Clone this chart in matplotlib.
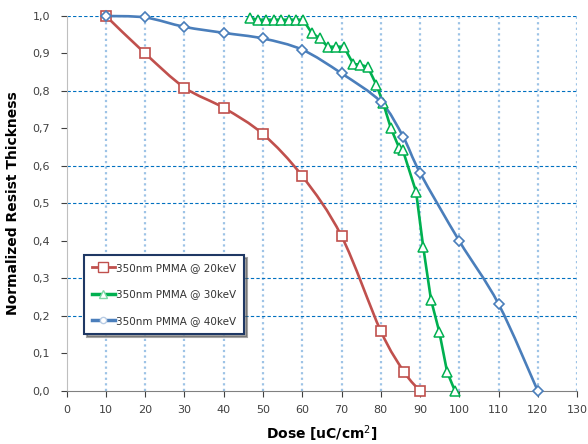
import matplotlib
matplotlib.use('Agg')
import matplotlib.pyplot as plt
from matplotlib.path import Path
from matplotlib.patches import PathPatch

# 20 keV data
dose_20 = [10, 20, 30, 40, 50, 60, 70, 80, 86, 90]
thick_20 = [1.0, 0.90, 0.809, 0.755, 0.685, 0.573, 0.413, 0.16, 0.05, 0.0]

# 30 keV data
dose_30 = [46.7, 48.7, 50.7, 52.8, 54.6, 56.6, 58.4, 60.2, 62.4, 64.5, 66.5,
           68.7, 70.6, 73.0, 74.8, 76.7, 78.9, 80.6, 82.6, 84.7, 85.6, 89.0,
           90.8, 92.8, 94.9, 96.9, 98.9]
thick_30 = [0.995, 0.99, 0.99, 0.99, 0.99, 0.99, 0.99, 0.99, 0.955, 0.94, 0.918,
            0.918, 0.918, 0.872, 0.87, 0.864, 0.816, 0.768, 0.70, 0.648, 0.643, 0.531,
            0.385, 0.243, 0.158, 0.051, 0.0]

# 40 keV data
dose_40 = [10, 20, 30, 40, 50, 60, 70, 80, 85.7, 90, 100, 110, 120]
thick_40 = [1.0, 0.996, 0.971, 0.955, 0.94, 0.91, 0.847, 0.771, 0.678, 0.582, 0.40, 0.232, 0.0]

x_ticks = list(range(0, 140, 10))
y_ticks = [i / 10 for i in range(11)]
y_grid = [0.2, 0.3, 0.5, 0.6, 0.8, 1.0]

labels = ['350nm PMMA @ 20keV', '350nm PMMA @ 30keV', '350nm PMMA @ 40keV']
red = '#C0504D'
green = '#00B050'
blue = '#4A7EBB'


def smooth_path(xs, ys):
    # excel-like smoothed line: bezier through the points
    pts = list(zip(xs, ys))
    verts = [pts[0]]
    codes = [Path.MOVETO]
    n = len(pts)
    for i in range(n - 1):
        p0 = pts[i - 1] if i > 0 else pts[i]
        p1 = pts[i]
        p2 = pts[i + 1]
        p3 = pts[i + 2] if i + 2 < n else pts[i + 1]
        c1 = (p1[0] + (p2[0] - p0[0]) / 6, p1[1] + (p2[1] - p0[1]) / 6)
        c2 = (p2[0] - (p3[0] - p1[0]) / 6, p2[1] - (p3[1] - p1[1]) / 6)
        verts += [c1, c2, p2]
        codes += [Path.CURVE4] * 3
    return Path(verts, codes)


fig = plt.figure(figsize=(5.88, 4.44), dpi=100)
ax = fig.add_axes([0.1134, 0.1194, 0.868, 0.8446])

for x in x_ticks[1:]:
    ax.axvline(x, color='#9DC3E6', lw=1.6, ls=(0, (1, 1.5)), zorder=0)
for y in y_grid:
    ax.axhline(y, color='#0070C0', lw=0.8, ls=(0, (3, 2)), zorder=0)

ax.add_patch(PathPatch(smooth_path(dose_20, thick_20), fill=False, ec=red, lw=1.9, zorder=2, clip_on=False))
ax.add_patch(PathPatch(smooth_path(dose_40, thick_40), fill=False, ec=blue, lw=1.9, zorder=2, clip_on=False))

ax.plot(dose_20, thick_20, ls='none', marker='s', ms=6.5, mfc='white', mec=red, mew=1.2, zorder=3, clip_on=False)
ax.plot(dose_30, thick_30, color=green, lw=1.9, marker='^', ms=7.5, mfc='white', mec=green, mew=1.1, zorder=3, clip_on=False)
ax.plot(dose_40, thick_40, ls='none', marker='D', ms=5.5, mfc='white', mec=blue, mew=1.2, zorder=3, clip_on=False)

# legend handles
h1, = ax.plot([], [], color=red, lw=2, marker='s', ms=6.5, mfc='white', mec=red)
h2, = ax.plot([], [], color=green, lw=2.5, marker='^', ms=6, mfc='white', mec='#7FD8A7')
h3, = ax.plot([], [], color=blue, lw=2.5, marker='o', ms=4.5, mfc='white', mec='#B8CCE4')
leg = ax.legend([h1, h2, h3], labels, loc='upper left', bbox_to_anchor=(0.034, 0.363),
                borderaxespad=0, fontsize=7.5, frameon=True, fancybox=False, shadow=True,
                handlelength=2.2, handletextpad=0.1, labelspacing=1.6, borderpad=0.75)
leg.get_frame().set_edgecolor('#1F3864')
leg.get_frame().set_linewidth(1.5)
for t in leg.get_texts():
    t.set_color('#333333')

ax.set_xlim(0, 130)
ax.set_ylim(0, 1.0)
ax.set_xticks(x_ticks)
ax.set_yticks(y_ticks)
ax.set_yticklabels([('%.1f' % v).replace('.', ',') for v in y_ticks])
ax.tick_params(labelsize=8, colors='#404040', length=4, width=0.8, pad=6)
ax.tick_params(axis='y', colors='#404040', pad=8)
for s in ['top', 'right']:
    ax.spines[s].set_visible(False)
ax.spines['left'].set_color('#BFBFBF')
ax.spines['bottom'].set_color('#808080')

ax.set_xlabel('Dose [uC/cm$^2$]', fontsize=10, fontweight='bold', labelpad=6)
ax.set_ylabel('Normalized Resist Thickness', fontsize=10, fontweight='bold', labelpad=9)

fig.savefig('out.png', dpi=100)
